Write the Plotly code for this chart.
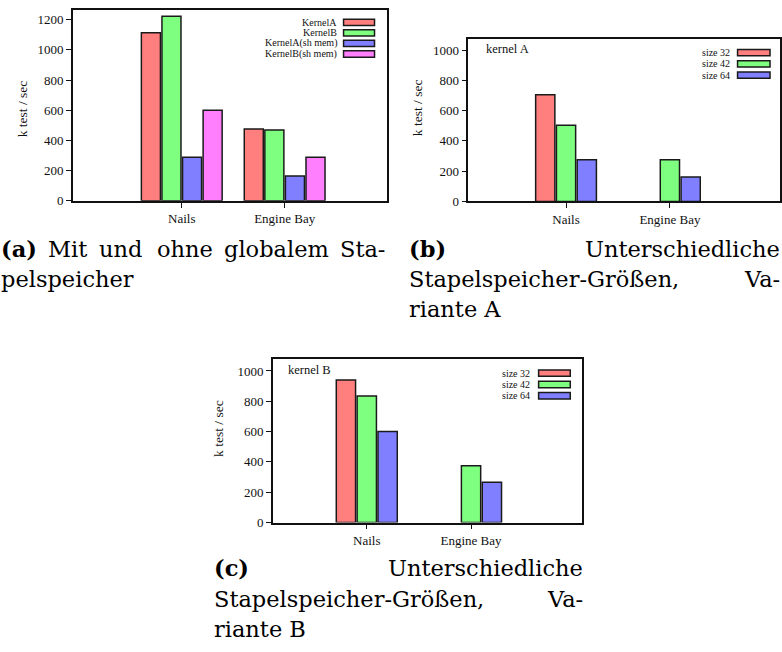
import plotly.graph_objects as go

# ---------------- data ----------------
categories = ["Nails", "Engine Bay"]

a_series = ["KernelA", "KernelB", "KernelA(sh mem)", "KernelB(sh mem)"]
a_kernelA = [1113, 475]
a_kernelB = [1222, 469]
a_kernelA_sh = [288, 164]
a_kernelB_sh = [600, 288]

size_series = ["size 32", "size 42", "size 64"]
b_size32 = [705, None]
b_size42 = [504, 276]
b_size64 = [276, 161]

c_size32 = [940, None]
c_size42 = [835, 374]
c_size64 = [600, 265]

y_ticks = [0, 200, 400, 600, 800, 1000, 1200]

# ---------------- styling ----------------
W, H = 782, 652
COLORS = ["#FF7F7F", "#7FFF7F", "#7F7FFF", "#FF7FFF"]
SERIF = "Liberation Serif"
CAPTION_FONT = "DejaVu Serif"
INK = "#111111"
SLOT = 0.2      # category-units per bar slot
BAR_W = 0.185   # visible bar width


def px_x(x):
    return x / W


def px_y(y):
    return 1 - y / H


# panel boxes in pixels: (left, top, right, bottom)
panels = {
    "a": dict(box=(73, 10, 387, 203.3), xr=[-1.058, 1.99], yr=[0, 1265]),
    "b": dict(box=(469, 39.3, 781, 204), xr=[-0.94, 2.06], yr=[0, 1074]),
    "c": dict(box=(273.3, 363.3, 582.3, 529), xr=[-0.90, 2.06], yr=[0, 1080]),
}

fig = go.Figure()


def add_group(series_names, series_values, axis_suffix):
    n = len(series_names)
    for i, (name, vals) in enumerate(zip(series_names, series_values)):
        off = (i - (n - 1) / 2) * SLOT - BAR_W / 2
        fig.add_trace(go.Bar(
            x=[0, 1], y=vals, name=name,
            width=BAR_W, offset=off,
            marker=dict(color=COLORS[i], line=dict(color="#1a1a1a", width=1.5)),
            xaxis="x" + axis_suffix, yaxis="y" + axis_suffix,
            showlegend=False,
        ))


add_group(a_series, [a_kernelA, a_kernelB, a_kernelA_sh, a_kernelB_sh], "")
add_group(size_series, [b_size32, b_size42, b_size64], "2")
add_group(size_series, [c_size32, c_size42, c_size64], "3")

axis_common = dict(
    showline=True, linecolor=INK, linewidth=1.5, mirror=True,
    ticks="outside", ticklen=5, tickwidth=1.2, tickcolor=INK,
    showgrid=False, zeroline=False,
    tickfont=dict(family=SERIF, size=13, color=INK),
)

layout_axes = {}
for key, suffix in (("a", ""), ("b", "2"), ("c", "3")):
    l, t, r, b = panels[key]["box"]
    layout_axes["xaxis" + suffix] = dict(
        axis_common, domain=[px_x(l), px_x(r)], range=panels[key]["xr"],
        tickvals=[0, 1], ticktext=categories,
        anchor="y" + suffix,
    )
    layout_axes["yaxis" + suffix] = dict(
        axis_common, domain=[px_y(b), px_y(t)], range=panels[key]["yr"],
        tickvals=y_ticks, anchor="x" + suffix,
    )

annotations = []
shapes = []

# y-axis titles
for (x, y) in ((22.7, 110), (418, 109), (218, 433.5)):
    annotations.append(dict(
        text="k test / sec", x=px_x(x), y=px_y(y), xref="paper", yref="paper",
        textangle=-90, showarrow=False, xanchor="center", yanchor="middle",
        font=dict(family=SERIF, size=13.5, color=INK),
    ))

# in-plot panel labels
for (txt, x, y) in (("kernel A", 485, 49.3), ("kernel B", 286, 374.3)):
    annotations.append(dict(
        text=txt, x=px_x(x), y=px_y(y), xref="paper", yref="paper",
        showarrow=False, xanchor="left", yanchor="middle",
        font=dict(family=SERIF, size=12.5, color=INK),
    ))


# key boxes: text right-aligned, coloured swatch to its right
def add_key(names, text_right, box_left, box_right, rows, box_h=6.4):
    for i, (name, row) in enumerate(zip(names, rows)):
        annotations.append(dict(
            text=name, x=px_x(text_right), y=px_y(row), xref="paper", yref="paper",
            showarrow=False, xanchor="right", yanchor="middle",
            font=dict(family=SERIF, size=10, color=INK),
        ))
        shapes.append(dict(
            type="rect", xref="paper", yref="paper",
            x0=px_x(box_left), x1=px_x(box_right),
            y0=px_y(row + box_h / 2), y1=px_y(row - box_h / 2),
            fillcolor=COLORS[i], line=dict(color="#1a1a1a", width=1.5),
        ))


add_key(a_series, 339, 344, 375, [22.7, 33.3, 44.0, 54.7])
add_key(size_series, 733, 738.5, 771, [53.3, 64.6, 76.0])
add_key(size_series, 533, 539.3, 571, [377.7, 389.3, 400.7])

# captions (justified lines are laid out word by word)
CAP = dict(family=CAPTION_FONT, size=22.5, color="#000000")


def cap(text, x, y, anchor="left"):
    annotations.append(dict(
        text=text, x=px_x(x), y=px_y(y), xref="paper", yref="paper",
        showarrow=False, xanchor=anchor, yanchor="middle", font=CAP,
        borderpad=0,
    ))


line1_words = [("<b>(a)</b>", 0, "left"), ("Mit", 47, "left"), ("und", 98, "left"),
               ("ohne", 156, "left"), ("globalem", 223, "left"), ("Sta-", 386, "right")]
for word, x, anchor in line1_words:
    cap(word, x, 252.5, anchor)
cap("pelspeicher", 0, 282.5)

cap("<b>(b)</b>", 409, 252.5)
cap("Unterschiedliche", 782, 252.5, "right")
cap("Stapelspeicher-Größen,", 409, 282.5)
cap("Va-", 782, 282.5, "right")
cap("riante A", 409, 312.5)

cap("<b>(c)</b>", 213, 575.5)
cap("Unterschiedliche", 585, 575.5, "right")
cap("Stapelspeicher-Größen,", 213, 606)
cap("Va-", 585, 606, "right")
cap("riante B", 213, 637)

fig.update_layout(
    width=W, height=H,
    margin=dict(l=0, r=0, t=0, b=0),
    paper_bgcolor="white", plot_bgcolor="white",
    barmode="overlay",
    showlegend=False,
    annotations=annotations, shapes=shapes,
    **layout_axes,
)

fig.write_html("out.html")
